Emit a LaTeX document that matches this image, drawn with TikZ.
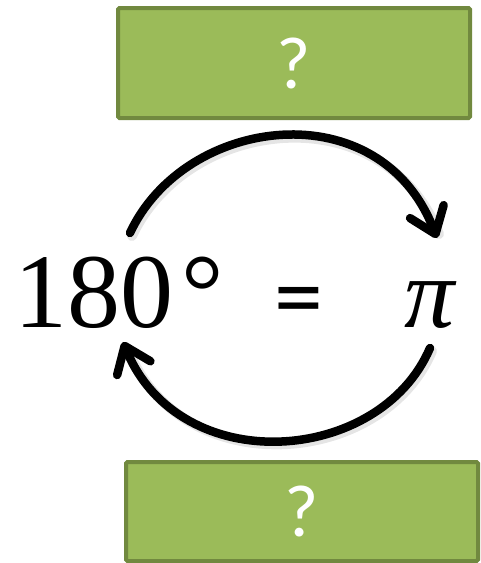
\documentclass[tikz,border=0pt]{standalone}
\usepackage{fontspec}
\newfontfamily\boxfont{Carlito}
\newfontfamily\pifont{Liberation Serif}
\definecolor{boxfill}{RGB}{155, 187, 89}
\definecolor{boxline}{RGB}{113, 137, 63}
\usetikzlibrary{calc,arrows.meta}

\tikzset{
    answerbox/.style={draw=boxline, fill=boxfill, line width=4pt, rounded corners=1.5pt,
        inner sep=0pt, text=white, font=\boxfont\fontsize{74}{74}\selectfont},
    turn/.style={line width=8.5pt, line cap=round, -{Straight Barb[length=24pt,width=36pt,round]}},
    turnshade/.style={line width=10pt, black!10, line cap=round}
}

\begin{document}
\begin{tikzpicture}[x=1pt, y=-1pt]
    \useasboundingbox (0,0) rectangle (481,563);

    % Question boxes
    \node[answerbox, minimum width=352pt, minimum height=110pt] (topbox) at (294,63) {?};
    \node[answerbox, minimum width=352pt, minimum height=99pt] (botbox) at (302,511.5) {?};

    % Equation
    \node[inner sep=0pt, anchor=base west] (deg) at (14,327)
        {\pifont\fontsize{106}{106}\selectfont 180\kern8pt °};
    \node[inner sep=0pt, font=\boxfont\fontsize{98}{98}\selectfont] (eq) at (299,308) {=};
    \node[inner sep=0pt, anchor=base] (pi) at (430,327) {\pifont\itshape\fontsize{100}{100}\selectfont π};

    % Arrow ends
    \coordinate (degtop) at (130,233);
    \coordinate (pitop) at (437,238);
    \coordinate (pibot) at (430,348);
    \coordinate (degbot) at (123,342);

    % Soft shadow
    \draw[turnshade] ($(degtop)+(2,3)$) .. controls (187,118) and (382,93) .. ($(pitop)+(2,-4)$);
    \draw[turnshade] ($(pibot)+(2,3)$) .. controls (382,468) and (182,483) .. ($(degbot)+(5,8)$);

    % Conversion arrows
    \draw[turn] (degtop) .. controls (185,115) and (380,90) .. (pitop);
    \draw[turn] (pibot) .. controls (380,465) and (180,480) .. (degbot);
\end{tikzpicture}
\end{document}
